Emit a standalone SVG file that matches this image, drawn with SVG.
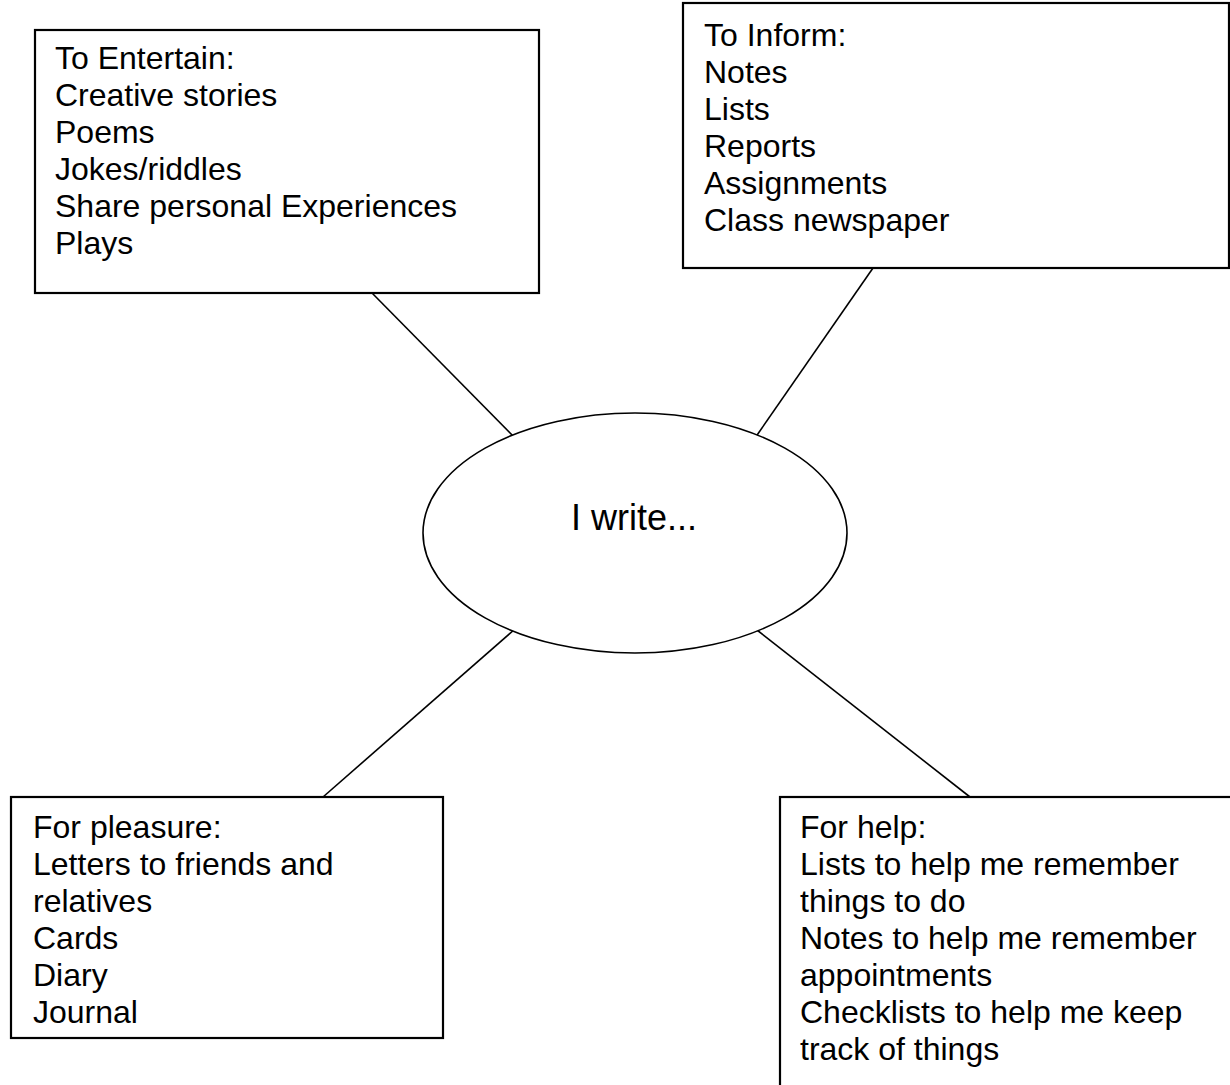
<svg xmlns="http://www.w3.org/2000/svg" width="1230" height="1085" viewBox="0 0 1230 1085">
<style>
.box{fill:#fff;stroke:#000;stroke-width:2.2}
.conn{stroke:#000;stroke-width:1.6;fill:none}
.t{font-family:"Liberation Sans",Arial,sans-serif;font-size:32px;fill:#000}
.c{font-family:"Liberation Sans",Arial,sans-serif;font-size:36px;fill:#000;text-anchor:middle}
</style>
<rect width="1230" height="1085" fill="#fff"/>
<g id="connectors">
<line class="conn" x1="372" y1="293" x2="515" y2="438"/>
<line class="conn" x1="873" y1="268" x2="755" y2="438"/>
<line class="conn" x1="515" y1="629" x2="323" y2="797"/>
<line class="conn" x1="757" y1="630" x2="970" y2="797"/>
</g>
<g id="center">
<ellipse cx="635" cy="533" rx="212" ry="120" fill="#fff" stroke="#000" stroke-width="1.6"/>
<text class="c" x="634" y="530">I write...</text>
</g>
<g id="entertain">
<rect class="box" x="35" y="30" width="504" height="263"/>
<text class="t" x="55" y="69">To Entertain:</text>
<text class="t" x="55" y="106">Creative stories</text>
<text class="t" x="55" y="143">Poems</text>
<text class="t" x="55" y="180">Jokes/riddles</text>
<text class="t" x="55" y="217">Share personal Experiences</text>
<text class="t" x="55" y="254">Plays</text>
</g>
<g id="inform">
<rect class="box" x="683" y="3" width="546" height="265"/>
<text class="t" x="704" y="46">To Inform:</text>
<text class="t" x="704" y="83">Notes</text>
<text class="t" x="704" y="120">Lists</text>
<text class="t" x="704" y="157">Reports</text>
<text class="t" x="704" y="194">Assignments</text>
<text class="t" x="704" y="231">Class newspaper</text>
</g>
<g id="pleasure">
<rect class="box" x="11" y="797" width="432" height="241"/>
<text class="t" x="33" y="838">For pleasure:</text>
<text class="t" x="33" y="875">Letters to friends and</text>
<text class="t" x="33" y="912">relatives</text>
<text class="t" x="33" y="949">Cards</text>
<text class="t" x="33" y="986">Diary</text>
<text class="t" x="33" y="1023">Journal</text>
</g>
<g id="help">
<rect class="box" x="780" y="797" width="470" height="320"/>
<text class="t" x="800" y="838">For help:</text>
<text class="t" x="800" y="875">Lists to help me remember</text>
<text class="t" x="800" y="912">things to do</text>
<text class="t" x="800" y="949">Notes to help me remember</text>
<text class="t" x="800" y="986">appointments</text>
<text class="t" x="800" y="1023">Checklists to help me keep</text>
<text class="t" x="800" y="1060">track of things</text>
</g>
</svg>
